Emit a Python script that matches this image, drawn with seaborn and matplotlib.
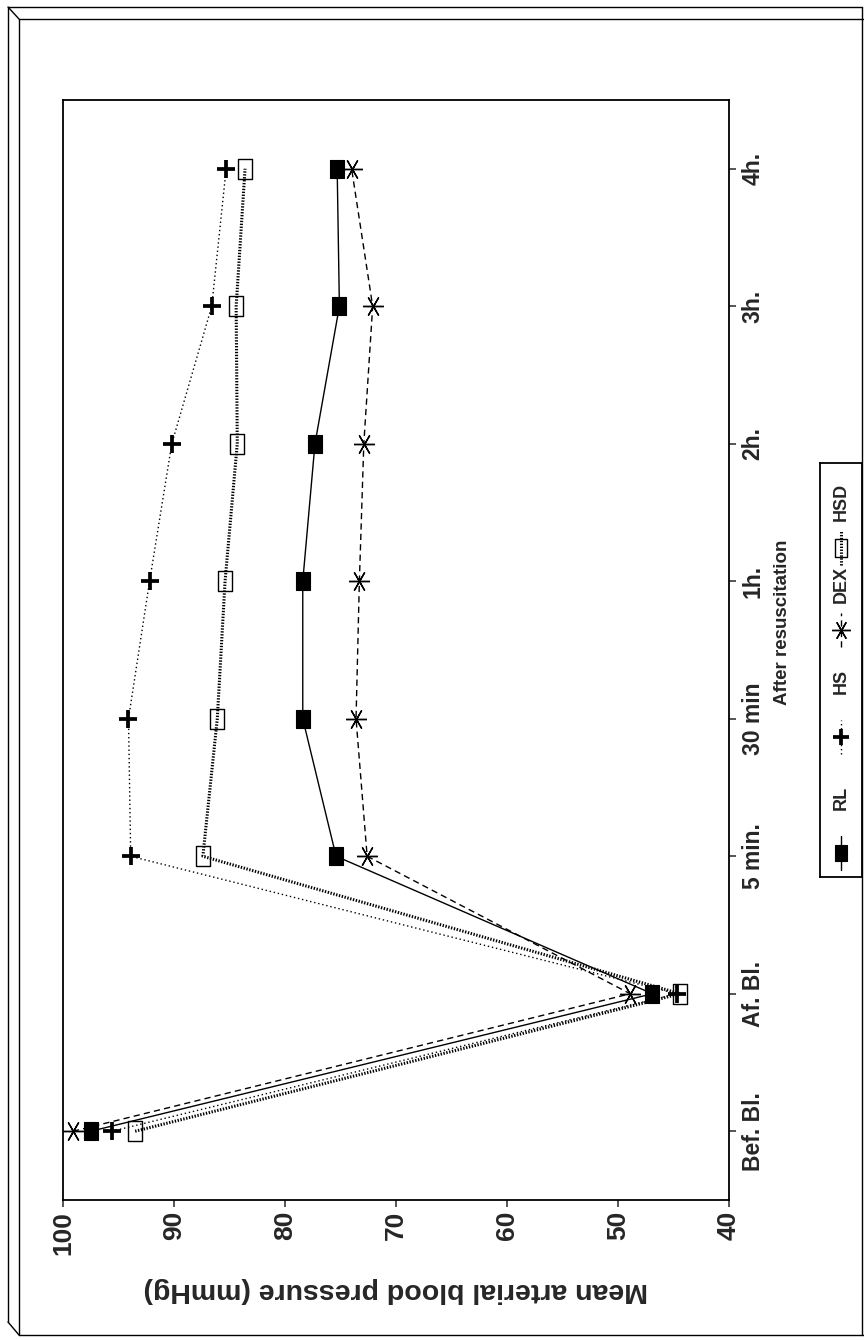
import numpy as np
import pandas as pd
import matplotlib
matplotlib.use("Agg")
import matplotlib.pyplot as plt
import matplotlib.path as mpath
from matplotlib.lines import Line2D
import seaborn as sns

# ---------------- data ----------------
categories = ["Bef. Bl.", "Af. Bl.", "5 min.", "30 min", "1h.", "2h.", "3h.", "4h."]
rl_values = [97.5, 46.9, 75.4, 78.4, 78.4, 77.3, 75.1, 75.3]
hs_values = [95.6, 44.7, 93.9, 94.1, 92.2, 90.2, 86.6, 85.3]
dex_values = [99.1, 48.9, 72.6, 73.6, 73.3, 72.9, 72.1, 74.0]
hsd_values = [93.5, 44.4, 87.4, 86.1, 85.4, 84.3, 84.4, 83.6]
series_names = ["RL", "HS", "DEX", "HSD"]
value_ticks = [100, 90, 80, 70, 60, 50, 40]
value_label = "Mean arterial blood pressure (mmHg)"
category_label = "After resuscitation"

# ---------------- style ----------------
sns.set_style("white")
plt.rcParams["font.family"] = ["Liberation Sans", "DejaVu Sans"]
plt.rcParams["font.weight"] = "bold"
plt.rcParams["lines.scale_dashes"] = False

W, H, DPI = 864, 1340, 100
fig = plt.figure(figsize=(W / DPI, H / DPI), dpi=DPI)
fig.patch.set_facecolor("white")


def fx(px):
    return px / W


def fy(py):
    return 1 - py / H


rect_solid = mpath.Path([(-0.39, -0.5), (0.39, -0.5), (0.39, 0.5), (-0.39, 0.5), (-0.39, -0.5)], closed=True)
rect_open = mpath.Path([(-0.35, -0.5), (0.35, -0.5), (0.35, 0.5), (-0.35, 0.5), (-0.35, -0.5)], closed=True)

styles = {
    "RL": dict(marker=rect_solid, markersize=13, markerfacecolor="black", markeredgewidth=0.8,
               linestyle="-", linewidth=1.0),
    "HS": dict(marker="+", markersize=12.5, markerfacecolor="black", markeredgewidth=2.7,
               linestyle=(0, (1.0, 2.0)), linewidth=1.0),
    "DEX": dict(marker=(6, 2, 90), markersize=15, markerfacecolor="black", markeredgewidth=1.0,
                linestyle=(0, (4.5, 3.0)), linewidth=1.0),
    "HSD": dict(marker=rect_open, markersize=14.4, markerfacecolor="none", markeredgewidth=1.0,
                linestyle=(0, (1.0, 1.1)), linewidth=2.2),
}
series_values = {"RL": rl_values, "HS": hs_values, "DEX": dex_values, "HSD": hsd_values}

# ---------------- main axes (chart drawn rotated 90 degrees) ----------------
ax = fig.add_axes([fx(63), fy(1200), fx(729) - fx(63), fy(100) - fy(1200)])
pos = np.arange(len(categories))
for name in series_names:
    df = pd.DataFrame({"value": series_values[name], "pos": pos})
    sns.lineplot(data=df, x="value", y="pos", orient="y", estimator=None, ax=ax,
                 color="black", markeredgecolor="black", legend=False, zorder=3,
                 **styles[name])

ax.set_xlim(100, 40)
ax.set_ylim(-0.5, 7.5)
for s in ax.spines.values():
    s.set_visible(True)
    s.set_linewidth(1.3)
    s.set_color("black")

ax.set_xticks(value_ticks)
ax.set_xticklabels([str(v) for v in value_ticks], rotation=90, fontsize=19, fontweight="bold")
ax.yaxis.tick_right()
ax.set_yticks(pos)
ax.set_yticklabels(categories, rotation=90, fontsize=16.5, fontweight="bold", va="center")
ax.tick_params(axis="x", direction="out", length=5, width=1.1, pad=3, bottom=True, top=False)
ax.tick_params(axis="y", direction="out", length=5, width=1.1, pad=4, right=True, left=False)

ax.set_xlabel(value_label, rotation=180, fontsize=20.5, fontweight="bold")
ax.xaxis.set_label_coords(0.5, -0.0815)
ax.xaxis.label.set_va("center")
ax.yaxis.set_label_position("right")
ax.set_ylabel(category_label, rotation=90, fontsize=13.5, fontweight="bold")
ax.yaxis.set_label_coords(1.0796, 0.5255)
ax.yaxis.label.set_va("center")
ax.yaxis.label.set_ha("center")

# ---------------- legend (rotated, vertical) ----------------
lx0, lx1, ly0, ly1 = 820, 862, 463, 877
lax = fig.add_axes([fx(lx0), fy(ly1), fx(lx1) - fx(lx0), fy(ly0) - fy(ly1)])
lax.set_xlim(lx0, lx1)
lax.set_ylim(ly1, ly0)
lax.set_xticks([])
lax.set_yticks([])
for s in lax.spines.values():
    s.set_linewidth(1.3)
    s.set_color("black")
leg_handle_y = [853, 737, 630, 548]
leg_text_y = [798, 681, 584, 502]
leg_x = 841
for name, hy, ty in zip(series_names, leg_handle_y, leg_text_y):
    st = dict(styles[name])
    st["markersize"] = st["markersize"] * 0.9
    lax.plot([leg_x, leg_x, leg_x], [hy + 17, hy, hy - 17], color="black",
             markeredgecolor="black", markevery=[1], **st)
    lax.text(leg_x, ty, name, rotation=90, ha="center", va="center",
             fontsize=13, fontweight="bold")

# ---------------- page frame ----------------
frame_segments = [
    ([8, 862], [7, 7]),
    ([19, 864], [19, 19]),
    ([8, 19], [7, 19]),
    ([8, 8], [7, 1322]),
    ([19, 19], [19, 1335]),
    ([8, 19], [1322, 1335]),
    ([19, 864], [1335, 1335]),
    ([862, 862], [7, 1335]),
]
for xs, ys in frame_segments:
    fig.add_artist(Line2D([fx(x) for x in xs], [fy(y) for y in ys], color="black",
                          linewidth=1.0, transform=fig.transFigure))

fig.savefig("out.png", dpi=DPI, facecolor="white")
